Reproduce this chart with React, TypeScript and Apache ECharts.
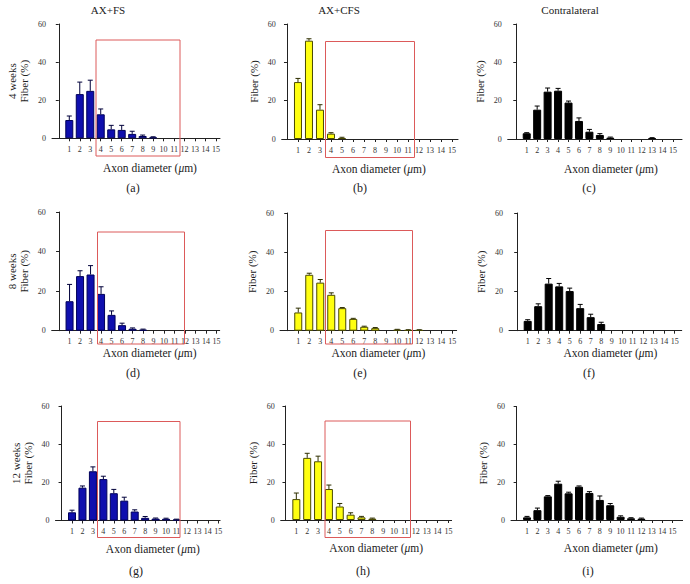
import React, { useEffect, useRef } from "react";
import * as echarts from "echarts";

const FONT = "Liberation Serif";

// ---- data ----
const diameters = [1, 2, 3, 4, 5, 6, 7, 8, 9, 10, 11, 12, 13, 14, 15];
const yTicks = [0, 20, 40, 60];
const columnTitles = ["AX+FS", "AX+CFS", "Contralateral"];
const rowLabels = ["4 weeks", "8 weeks", "12 weeks"];
const panelLetters = ["(a)", "(b)", "(c)", "(d)", "(e)", "(f)", "(g)", "(h)", "(i)"];

const fs4 = [9.6, 23.2, 24.9, 12.6, 4.7, 4.4, 2.3, 1.2, 0.5, 0, 0, 0, 0, 0, 0];
const fs4Err = [2.1, 6.3, 5.6, 2.8, 2.1, 2.4, 1.4, 0.5, 0.3, 0, 0, 0, 0, 0, 0];
const cfs4 = [29.7, 51.3, 15.3, 2.8, 0.5, 0, 0, 0, 0, 0, 0, 0, 0, 0, 0];
const cfs4Err = [1.9, 1.0, 2.6, 0.5, 0.4, 0, 0, 0, 0, 0, 0, 0, 0, 0, 0];
const con4 = [3.0, 15.3, 24.7, 25.2, 19.0, 9.4, 3.8, 2.1, 0.7, 0, 0, 0, 0.4, 0, 0];
const con4Err = [0.3, 1.9, 1.9, 1.2, 0.8, 1.6, 1.2, 0.7, 0.3, 0, 0, 0, 0.3, 0, 0];

const fs8 = [14.9, 27.6, 28.4, 18.6, 8.0, 2.8, 1.0, 0.5, 0, 0, 0, 0, 0, 0, 0];
const fs8Err = [8.5, 2.7, 4.5, 3.6, 2.0, 1.0, 0.4, 0.3, 0, 0, 0, 0, 0, 0, 0];
const cfs8 = [9.3, 28.5, 24.5, 18.3, 11.5, 6.0, 2.0, 1.3, 0, 0.5, 0.3, 0.3, 0, 0, 0];
const cfs8Err = [2.2, 0.8, 1.6, 1.0, 0.3, 0.3, 0.3, 0.3, 0, 0.2, 0.2, 0.2, 0, 0, 0];
const con8 = [5.0, 12.5, 24.0, 22.6, 20.2, 11.5, 6.9, 3.4, 0, 0, 0, 0, 0, 0, 0];
const con8Err = [0.6, 1.2, 2.6, 1.5, 1.5, 1.9, 1.5, 0.9, 0, 0, 0, 0, 0, 0, 0];

const fs12 = [4.3, 17.2, 25.8, 21.7, 14.3, 10.4, 4.7, 1.4, 1.0, 0.9, 0.5, 0, 0, 0, 0];
const fs12Err = [1.1, 0.9, 2.3, 1.5, 2.0, 1.8, 0.9, 0.7, 0.3, 0.3, 0.2, 0, 0, 0, 0];
const cfs12 = [11.0, 32.7, 30.9, 16.3, 7.1, 2.8, 1.4, 0.7, 0, 0, 0, 0, 0, 0, 0];
const cfs12Err = [3.2, 2.4, 2.7, 2.1, 1.6, 1.0, 0.5, 0.3, 0, 0, 0, 0, 0, 0, 0];
const con12 = [1.4, 5.2, 12.5, 19.2, 14.1, 17.6, 14.3, 10.6, 7.8, 1.7, 0.9, 0.7, 0, 0, 0];
const con12Err = [0.5, 1.1, 0.4, 1.3, 0.6, 0.4, 0.7, 2.1, 0.9, 0.5, 0.3, 0.3, 0, 0, 0];

const panelValues = [fs4, cfs4, con4, fs8, cfs8, con8, fs12, cfs12, con12];
const panelErrors = [fs4Err, cfs4Err, con4Err, fs8Err, cfs8Err, con8Err, fs12Err, cfs12Err, con12Err];

// ---- styles per column ----
const columnStyles = [
  { fill: "#0f0fae", border: "#00005a", err: "#00003a" },
  { fill: "#ffff10", border: "#4a4a00", err: "#303000" },
  { fill: "#000000", border: "#000000", err: "#000000" },
];

// ---- layout (pixels) ----
const layout = [
  { left: 52, top: 24, height: 114.3, min: -0.65, max: 15.38, unit: 10.48, shift: 14 },
  { left: 281.7, top: 24, height: 115, min: -0.48, max: 15.55, unit: 11, shift: 9 },
  { left: 507.7, top: 24, height: 115, min: -0.82, max: 15.86, unit: 10.45, shift: 16 },
  { left: 51.7, top: 212, height: 118.7, min: -0.7, max: 15.3, unit: 10.5, shift: 14 },
  { left: 280, top: 213, height: 117.7, min: -0.66, max: 15.4, unit: 11, shift: 10 },
  { left: 509, top: 213, height: 117.7, min: -0.78, max: 15.67, unit: 10.5, shift: 15 },
  { left: 55.5, top: 406, height: 114.5, min: -0.58, max: 15.17, unit: 10.45, shift: 15 },
  { left: 280.7, top: 406, height: 114, min: -0.44, max: 15.3, unit: 10.86, shift: 10 },
  { left: 511, top: 406.5, height: 113.5, min: -0.54, max: 15.96, unit: 10.4, shift: 14 },
];
const rowNameGap = [24, 16, 22];

const letterPos = [
  [133, 188], [360, 188], [589, 188],
  [133, 373], [360, 373], [589, 373],
  [136, 571], [363, 571], [588, 571],
];
const titlePos = [[108, 10], [339, 10], [570, 10]];

const redBoxes = [
  { x: 96, y: 40, w: 84, h: 116 },
  { x: 325.5, y: 41.5, w: 89, h: 116 },
  { x: 97.5, y: 232, w: 87, h: 112 },
  { x: 325.5, y: 230.5, w: 87, h: 113.5 },
  { x: 97.5, y: 421.5, w: 82.5, h: 116 },
  { x: 325, y: 421, w: 85.5, h: 116.5 },
];

function buildOption() {
  const grid: any[] = [];
  const xAxis: any[] = [];
  const yAxis: any[] = [];
  const series: any[] = [];

  for (let i = 0; i < 9; i++) {
    const L = layout[i];
    const col = i % 3;
    const row = Math.floor(i / 3);
    const st = columnStyles[col];
    grid.push({
      left: L.left,
      top: L.top,
      width: (L.max - L.min) * L.unit,
      height: L.height,
      containLabel: false,
    });
    xAxis.push({
      type: "value",
      gridIndex: i,
      min: L.min,
      max: L.max,
      axisLine: { show: true, onZero: false, lineStyle: { color: "#222", width: 1 } },
      axisTick: { show: true, customValues: diameters, length: 3, lineStyle: { color: "#222", width: 1 } },
      axisLabel: {
        show: true,
        customValues: diameters,
        fontSize: 8,
        margin: 7,
        color: "#333",
        fontFamily: FONT,
      },
      splitLine: { show: false },
      name: "Axon diameter ({i|μ}m)",
      nameLocation: "middle",
      nameGap: rowNameGap[row],
      nameTextStyle: {
        fontSize: 11.5,
        fontFamily: FONT,
        color: "#222",
        padding: [0, 0, 0, L.shift * 2],
        rich: { i: { fontStyle: "italic", fontSize: 11.5, fontFamily: FONT, color: "#222" } },
      },
    });
    yAxis.push({
      type: "value",
      gridIndex: i,
      min: yTicks[0],
      max: yTicks[yTicks.length - 1],
      interval: yTicks[1] - yTicks[0],
      axisLine: { show: true, lineStyle: { color: "#222", width: 1 } },
      axisTick: { show: true, length: 3, lineStyle: { color: "#222", width: 1 } },
      axisLabel: { fontSize: 8, margin: 6, color: "#333", fontFamily: FONT },
      splitLine: { show: false },
      name: col === 0 ? `${rowLabels[row]}\nFiber (%)` : "Fiber (%)",
      nameLocation: "middle",
      nameGap: 22,
      nameTextStyle: { fontSize: 11, fontFamily: FONT, color: "#222", lineHeight: 12 },
    });
    const vals = panelValues[i];
    const errs = panelErrors[i];
    series.push({
      type: "bar",
      xAxisIndex: i,
      yAxisIndex: i,
      barWidth: 8,
      data: diameters
        .map((d, j) => [d, vals[j]])
        .filter((p) => p[1] > 0),
      itemStyle: { color: st.fill, borderColor: st.border, borderWidth: 1 },
      silent: true,
    });
    series.push({
      type: "custom",
      xAxisIndex: i,
      yAxisIndex: i,
      z: 3,
      encode: { x: 0, y: 1 },
      data: diameters.map((d, j) => [d, vals[j], errs[j]]),
      renderItem: (params: any, api: any) => {
        const x = api.value(0);
        const y = api.value(1);
        const e = api.value(2);
        if (!e) return null;
        const p0 = api.coord([x, y]);
        const p1 = api.coord([x, y + e]);
        return {
          type: "group",
          children: [
            {
              type: "line",
              shape: { x1: p0[0], y1: p0[1], x2: p1[0], y2: p1[1] },
              style: { stroke: st.err, lineWidth: 1 },
            },
            {
              type: "line",
              shape: { x1: p1[0] - 2.5, y1: p1[1], x2: p1[0] + 2.5, y2: p1[1] },
              style: { stroke: st.err, lineWidth: 1 },
            },
          ],
        };
      },
    });
  }

  const graphic: any[] = [];
  columnTitles.forEach((t, k) => {
    graphic.push({
      type: "text",
      x: titlePos[k][0],
      y: titlePos[k][1],
      style: { text: t, fontSize: 11, fontFamily: FONT, fill: "#222", align: "center", verticalAlign: "middle" },
    });
  });
  panelLetters.forEach((t, k) => {
    graphic.push({
      type: "text",
      x: letterPos[k][0],
      y: letterPos[k][1],
      style: { text: t, fontSize: 12, fontFamily: FONT, fill: "#222", align: "center", verticalAlign: "middle" },
    });
  });
  redBoxes.forEach((b) => {
    graphic.push({
      type: "rect",
      z: 100,
      shape: { x: b.x, y: b.y, width: b.w, height: b.h },
      style: { fill: "none", stroke: "#dc5a5a", lineWidth: 1 },
    });
  });

  return {
    animation: false,
    backgroundColor: "#ffffff",
    textStyle: { fontFamily: FONT },
    grid,
    xAxis,
    yAxis,
    series,
    graphic,
  };
}

export default function App() {
  const ref = useRef<HTMLDivElement>(null);
  useEffect(() => {
    if (!ref.current) return;
    const chart = echarts.init(ref.current, undefined, { renderer: "svg" });
    chart.setOption(buildOption() as any);
    return () => chart.dispose();
  }, []);
  return (
    <div
      ref={ref}
      style={{ position: "fixed", left: 0, top: 0, width: 690, height: 584, background: "#fff" }}
    />
  );
}
